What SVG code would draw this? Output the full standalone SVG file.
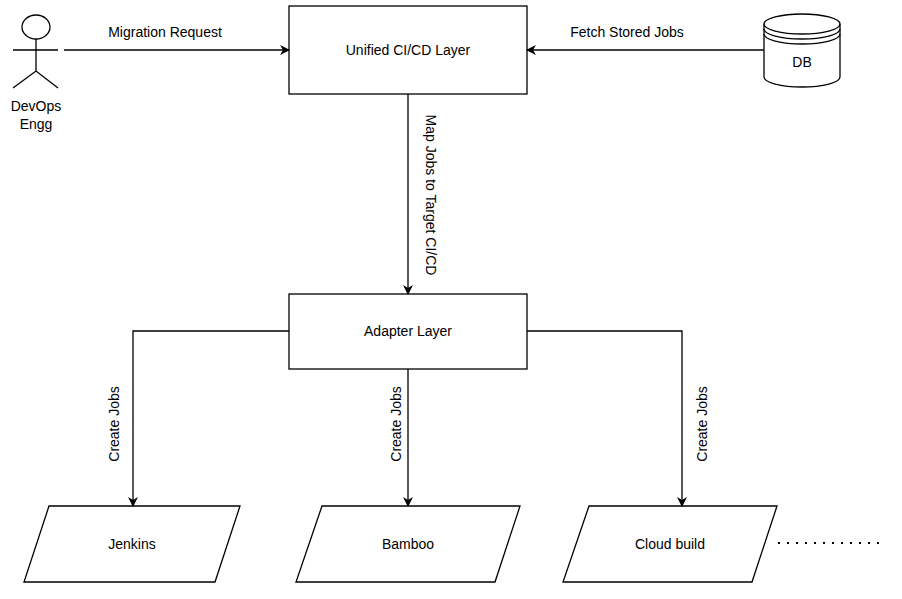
<svg xmlns="http://www.w3.org/2000/svg" width="902" height="599" viewBox="0 0 902 599">
<style>
.s{fill:#fff;stroke:#000;stroke-width:1.3}
.l{fill:none;stroke:#000;stroke-width:1.3}
text{font-family:"Liberation Sans",Arial,sans-serif;font-size:14px;fill:#000;text-anchor:middle}
</style>
<defs><marker id="a" markerWidth="10" markerHeight="10" refX="9" refY="5" orient="auto" markerUnits="userSpaceOnUse"><path d="M0,0 L10,5 L0,10 L3,5 Z" fill="#000"/></marker></defs>
<rect width="902" height="599" fill="#fff"/>
<g id="actor">
<ellipse class="s" cx="36" cy="27" rx="14" ry="12"/>
<path class="l" d="M36,39 V71 M13,50 H58 M13,88 L36,71 L58,88"/>
<text x="36" y="111">DevOps</text><text x="36" y="129">Engg</text>
</g>
<g id="unified"><rect class="s" x="289" y="6" width="238" height="88"/><text x="408" y="55">Unified CI/CD Layer</text></g>
<g id="db">
<path class="s" d="M764,24 A38,10 0 0 1 840,24 V77 A38,10 0 0 1 764,77 Z"/>
<path class="l" d="M764,24 A38,10 0 0 0 840,24 M764,29 A38,10 0 0 0 840,29 M764,34 A38,10 0 0 0 840,34"/>
<text x="802" y="67">DB</text>
</g>
<g id="adapter"><rect class="s" x="289" y="294" width="238" height="75"/><text x="408" y="336">Adapter Layer</text></g>
<g id="jenkins"><path class="s" d="M49,506 H240 L215,582 H24 Z"/><text x="132" y="549">Jenkins</text></g>
<g id="bamboo"><path class="s" d="M322,506 H520 L495,582 H296 Z"/><text x="408" y="549">Bamboo</text></g>
<g id="cloud"><path class="s" d="M589,506 H777 L752,582 H563 Z"/><text x="670" y="549">Cloud build</text></g>
<g id="connectors">
<path class="l" d="M64,50 H289" marker-end="url(#a)"/>
<path class="l" d="M764,50 H527" marker-end="url(#a)"/>
<path class="l" d="M408,94 V294" marker-end="url(#a)"/>
<path class="l" d="M289,331 H133 V506" marker-end="url(#a)"/>
<path class="l" d="M408,369 V506" marker-end="url(#a)"/>
<path class="l" d="M527,331 H682 V506" marker-end="url(#a)"/>
<path d="M778,543 H880" stroke="#000" stroke-width="2" stroke-dasharray="2,7"/>
<text x="165" y="37">Migration Request</text>
<text x="627" y="37">Fetch Stored Jobs</text>
<text transform="translate(426,195) rotate(90)">Map Jobs to Target CI/CD</text>
<text transform="translate(119,424) rotate(-90)">Create Jobs</text>
<text transform="translate(401,424) rotate(-90)">Create Jobs</text>
<text transform="translate(707,424) rotate(-90)">Create Jobs</text>
</g>
</svg>
